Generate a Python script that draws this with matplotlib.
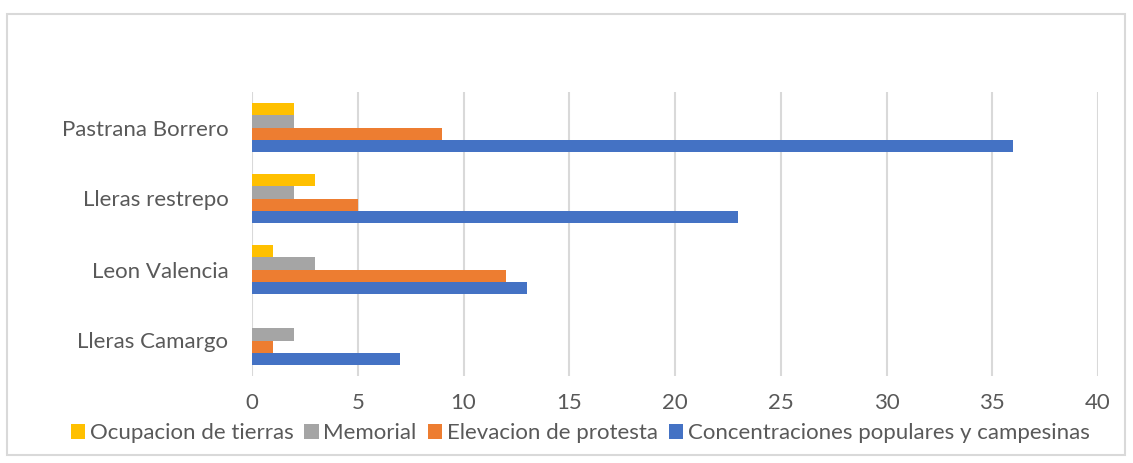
import numpy as np
import matplotlib.pyplot as plt
from matplotlib.patches import Rectangle

categories = ["Lleras Camargo", "Leon Valencia", "Lleras restrepo", "Pastrana Borrero"]
series_names = ["Concentraciones populares y campesinas", "Elevacion de protesta",
                "Memorial", "Ocupacion de tierras"]
concentraciones = [7, 13, 23, 36]
elevacion = [1, 12, 5, 9]
memorial = [2, 3, 2, 2]
ocupacion = [0, 1, 3, 2]
colors = ["#4472C4", "#ED7D31", "#A5A5A5", "#FFC000"]

plt.rcParams['font.family'] = ['Lato', 'DejaVu Sans']

fig = plt.figure(figsize=(11.33, 4.63), dpi=100)
fig.patches.append(Rectangle((7 / 1133, 1 - 455 / 463), 1118 / 1133, 441 / 463,
                             transform=fig.transFigure, fill=False,
                             edgecolor="#D9D9D9", linewidth=1.5))
ax = fig.add_axes([252 / 1133, 1 - 376 / 463, 846 / 1133, 284 / 463])

y = np.arange(len(categories))
h = 0.17
data = [concentraciones, elevacion, memorial, ocupacion]
offsets = [-1.5, -0.5, 0.5, 1.5]
bars = []
for vals, c, off, name in zip(data, colors, offsets, series_names):
    b = ax.barh(y + off * h, vals, height=h, color=c, label=name, zorder=3)
    bars.append(b)

ax.set_xlim(0, 40)
ax.set_ylim(-0.5, 3.5)
ax.set_xticks(range(0, 41, 5))
ax.set_yticks(y)
ax.set_yticklabels(categories)
ax.grid(axis="x", color="#D9D9D9", linewidth=1.5, zorder=0)
for s in ax.spines.values():
    s.set_visible(False)
ax.tick_params(axis="both", length=0, labelsize=16, colors="#595959")
ax.tick_params(axis="x", pad=12)
ax.tick_params(axis="y", pad=17)

handles = bars[::-1]
labels = series_names[::-1]
fig.legend(handles, labels, loc="center", bbox_to_anchor=(580 / 1133, 1 - 433 / 463),
           ncol=4, frameon=False, fontsize=16, handlelength=0.65, handleheight=0.65,
           handletextpad=0.2, columnspacing=0.5, labelcolor="#595959")

fig.savefig("out.png", dpi=100)
